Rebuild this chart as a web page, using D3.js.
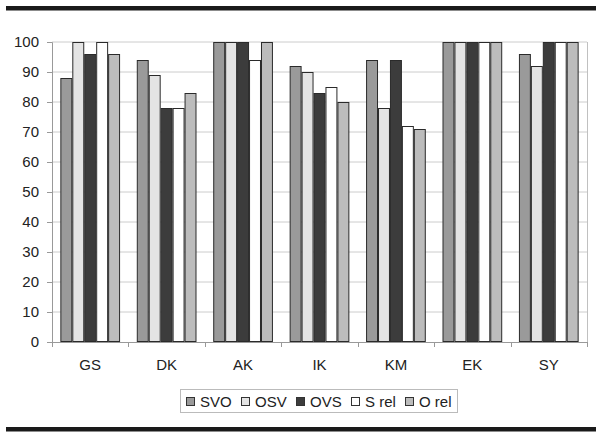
<!DOCTYPE html>
<html><head><meta charset="utf-8">
<script src="https://cdn.jsdelivr.net/npm/d3@7"></script>
<style>body{margin:0;background:#fff}svg{display:block}</style>
</head><body>
<script>
const categories = ["GS","DK","AK","IK","KM","EK","SY"];
const seriesNames = ["SVO","OSV","OVS","S rel","O rel"];
const SVO  = [88, 94, 100, 92, 94, 100, 96];
const OSV  = [100, 89, 100, 90, 78, 100, 92];
const OVS  = [96, 78, 100, 83, 94, 100, 100];
const Srel = [100, 78, 94, 85, 72, 100, 100];
const Orel = [96, 83, 100, 80, 71, 100, 100];
const yTicks = [0,10,20,30,40,50,60,70,80,90,100];
const colors = ["#9a9a9a","#e4e4e4","#3c3c3c","#ffffff","#bcbcbc"];

const series = [SVO, OSV, OVS, Srel, Orel];
const W = 602, H = 438;
const m = {left: 52, right: 15, top: 42, bottom: 96};
const FONT = "Liberation Sans, Arial, sans-serif";
const svg = d3.select("body").append("svg").attr("width", W).attr("height", H);

// rules
svg.append("rect").attr("x",6).attr("y",6).attr("width",590).attr("height",4.5).attr("fill","#1a1a1a");
svg.append("rect").attr("x",6).attr("y",427).attr("width",590).attr("height",4.5).attr("fill","#1a1a1a");

const x0 = d3.scaleBand().domain(categories).range([m.left, W - m.right]);
const x1 = d3.scaleBand().domain(seriesNames).range([0, x0.bandwidth()]).paddingOuter(0.7).paddingInner(0);
const y = d3.scaleLinear().domain([0,100]).range([H - m.bottom, m.top]);

// gridlines
svg.append("g").selectAll("line").data(yTicks.filter(d=>d>0)).join("line")
  .attr("x1", m.left).attr("x2", W - m.right)
  .attr("y1", d=>y(d)).attr("y2", d=>y(d))
  .attr("stroke", "#cccccc").attr("stroke-width", 1);
// right border
svg.append("line").attr("x1", W-m.right+0.5).attr("x2", W-m.right+0.5)
  .attr("y1", m.top).attr("y2", y(0)).attr("stroke","#c0c0c0");

// bars
const g = svg.append("g");
categories.forEach((c, i) => {
  seriesNames.forEach((s, j) => {
    const v = series[j][i];
    g.append("rect")
      .attr("x", x0(c) + x1(s) + 0.5)
      .attr("y", y(v) + 0.5)
      .attr("width", x1.bandwidth() - 1)
      .attr("height", y(0) - y(v) - 1)
      .attr("fill", colors[j])
      .attr("stroke", "#2a2a2a").attr("stroke-width", 1);
  });
});

// y axis
const yAxis = d3.axisLeft(y).tickValues(yTicks).tickSize(5).tickPadding(8);
const ya = svg.append("g").attr("transform", `translate(${m.left},0)`).call(yAxis);
ya.select(".domain").attr("stroke", "#999");
ya.selectAll(".tick line").attr("stroke", "#999");
ya.selectAll("text").attr("font-family",FONT).attr("font-size",15).attr("fill","#222");

// x axis
const xa = svg.append("g").attr("transform", `translate(0,${y(0)})`);
xa.append("line").attr("x1", m.left).attr("x2", W-m.right).attr("y1",0.5).attr("y2",0.5).attr("stroke","#999");
xa.selectAll("line.tk").data(categories.concat(["end"])).join("line").attr("class","tk")
  .attr("x1", (d,i)=> Math.round(m.left + i*x0.step())+0.5)
  .attr("x2", (d,i)=> Math.round(m.left + i*x0.step())+0.5)
  .attr("y1", 0).attr("y2", 5).attr("stroke","#999");
xa.selectAll("text").data(categories).join("text")
  .attr("x", d=> x0(d) + x0.bandwidth()/2).attr("y", 28)
  .attr("text-anchor","middle")
  .attr("font-family",FONT).attr("font-size",15).attr("fill","#222")
  .text(d=>d);

// legend
const lg = svg.append("g");
lg.append("rect").attr("x",180.5).attr("y",389.5).attr("width",277).attr("height",23)
  .attr("fill","#fff").attr("stroke","#bbb");
const lx = [186, 241, 296, 351, 405];
seriesNames.forEach((s, j) => {
  lg.append("rect").attr("x", lx[j]+0.5).attr("y", 397.5).attr("width", 8).attr("height", 8)
    .attr("fill", colors[j]).attr("stroke","#333");
  lg.append("text").attr("x", lx[j] + 14).attr("y", 407)
    .attr("font-family",FONT).attr("font-size",15).attr("fill","#222")
    .text(s);
});
</script>
</body></html>
